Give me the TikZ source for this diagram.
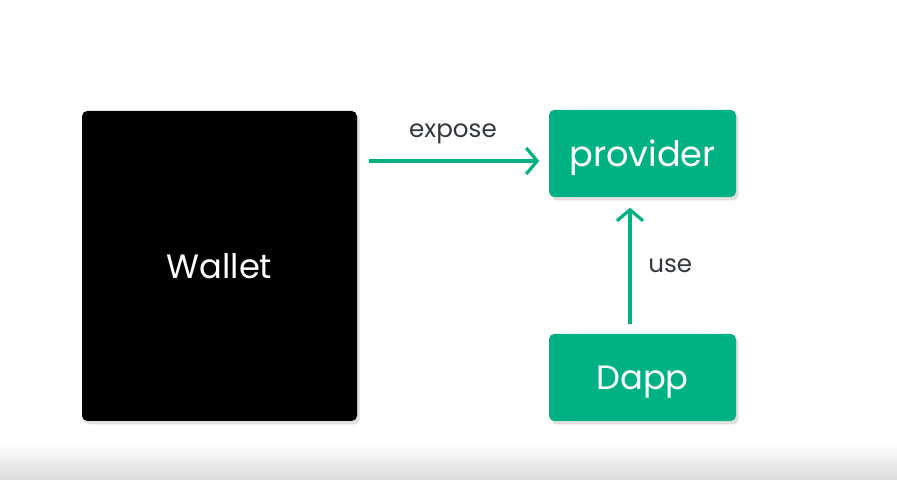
\documentclass[tikz,border=0pt]{standalone}
\usepackage{fontspec}
\setmainfont{Poppins}
\usetikzlibrary{arrows.meta,shadows}
\definecolor{dappgreen}{RGB}{0,178,131}
\definecolor{labelgray}{RGB}{51,55,60}
\tikzset{
	block/.style={rectangle, rounded corners=1.5pt, inner sep=0pt, text depth=0pt, drop shadow={shadow xshift=0.025cm, shadow yshift=-0.035cm, opacity=0.25}},
	link/.style={draw=dappgreen, line width=0.9pt, -{Straight Barb[length=1.1mm, width=2.6mm, line width=0.9pt]}},
	tag/.style={text=labelgray, font=\fontsize{7}{8}\selectfont}
}
\begin{document}
\begin{tikzpicture}
	\useasboundingbox (0,0) rectangle (8.97,4.80);
	% background with grey bottom
	\fill[white] (0,0) rectangle (8.97,4.80);
	\shade[bottom color=black!14, top color=white] (0,0) rectangle (8.97,0.38);
	% boxes
	\node[block, fill=black, text=white, minimum width=2.75cm, minimum height=3.10cm, font=\fontsize{9.6}{11}\selectfont] (wallet) at (2.195,2.14) {Wallet};
	\node[block, fill=dappgreen, text=white, minimum width=1.87cm, minimum height=0.87cm, font=\fontsize{10}{12}\selectfont] (provider) at (6.425,3.265) {provider};
	\node[block, fill=dappgreen, text=white, minimum width=1.87cm, minimum height=0.87cm, font=\fontsize{9.6}{11}\selectfont] (dapp) at (6.425,1.025) {Dapp};
	% connectors
	\draw[link, shorten <=0.11cm, shorten >=0.09cm] ([yshift=-0.075cm]provider.west -| wallet.east) -- ([yshift=-0.075cm]provider.west) node[tag, midway, above=0.04cm] {expose};
	\draw[link, shorten <=0.09cm, shorten >=0.10cm] ([xshift=-0.125cm]dapp.north) -- ([xshift=-0.125cm]provider.south) node[tag, midway, right=0.05cm] {use};
\end{tikzpicture}
\end{document}
